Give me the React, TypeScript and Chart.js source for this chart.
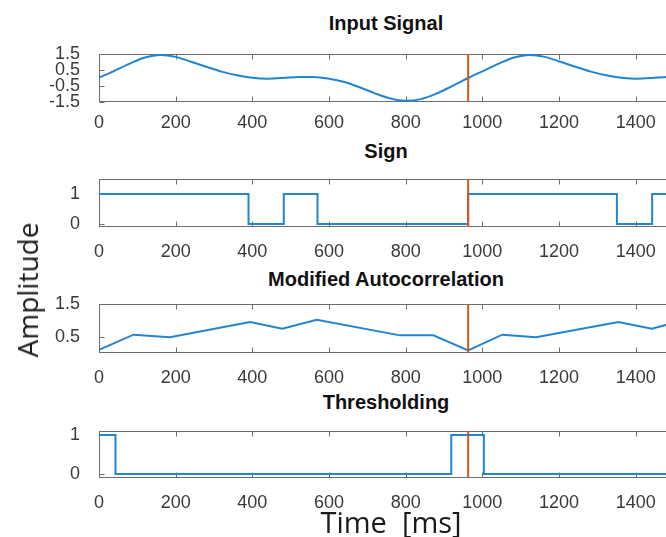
import React, { useEffect, useRef } from "react";
import { Chart, registerables } from "chart.js";

Chart.register(...registerables);

// ---------------- data ----------------
const X_TICKS = [0, 200, 400, 600, 800, 1000, 1200, 1400];
const X_MIN = 0;
const X_MAX = 1500;
const MARKER_T = 963;

const SIGNAL_T = [0, 40, 80, 120, 160, 200, 240, 280, 320, 360, 400, 440, 480, 520, 560, 600, 640, 680, 720, 760, 800, 840, 880, 920, 963, 1003, 1043, 1083, 1123, 1163, 1203, 1243, 1283, 1323, 1363, 1403, 1443, 1483, 1523];
const SIGNAL_V = [0.02, 0.45, 0.9, 1.28, 1.44, 1.32, 1.02, 0.7, 0.4, 0.17, 0.02, -0.04, 0.0, 0.07, 0.07, -0.04, -0.25, -0.58, -0.96, -1.28, -1.42, -1.32, -0.98, -0.52, 0.0, 0.45, 0.9, 1.28, 1.44, 1.32, 1.02, 0.7, 0.4, 0.17, 0.02, -0.04, 0.0, 0.07, 0.07];

const SIGN_T = [0, 390, 482, 570, 963, 1351, 1443, 1500];
const SIGN_V = [1, 0, 1, 0, 1, 0, 1, 1];

const ACF_T = [0, 90, 185, 394, 478, 568, 785, 872, 963, 1052, 1140, 1355, 1442, 1531];
const ACF_V = [0.1, 0.56, 0.48, 0.95, 0.74, 1.02, 0.54, 0.54, 0.08, 0.56, 0.48, 0.95, 0.74, 1.02];

const THR_T = [0, 43, 919, 1004, 1500];
const THR_V = [1, 0, 1, 0, 0];

const Y_TICKS_SIGNAL = [-1.5, -0.5, 0.5, 1.5];
const Y_TICKS_SIGN = [0, 1];
const Y_TICKS_ACF = [0.5, 1.5];
const Y_TICKS_THR = [0, 1];

const TITLES = ["Input Signal", "Sign", "Modified Autocorrelation", "Thresholding"];
const X_LABEL = "Time  [ms]";
const Y_LABEL = "Amplitude";

// ---------------- styles ----------------
const BLUE = "#2185d0";
const RED = "#dd5319";
const FRAME = "#6e6e6e";
const TICK_COLOR = "#3a3a3a";
const TICK_FONT = "'Liberation Sans', Arial, sans-serif";
const CANVAS_W = 674;
const Y_AXIS_W = 99;
const PAD_TOP = 12;
const X_AXIS_H = 36;
const TICK_LEN = 5;

type PanelCfg = {
  t: number[];
  v: number[];
  mode: "smooth" | "step" | "line";
  yMin: number;
  yMax: number;
  yTicks: number[];
  top: number;
  height: number;
  xPad: number;
  title: string;
  titleY: number;
};

const PANELS: PanelCfg[] = [
  { t: SIGNAL_T, v: SIGNAL_V, mode: "smooth", yMin: -1.5, yMax: 1.5, yTicks: Y_TICKS_SIGNAL, top: 54, height: 48, xPad: 2, title: TITLES[0], titleY: 22.5 },
  { t: SIGN_T, v: SIGN_V, mode: "step", yMin: -0.1, yMax: 1.5, yTicks: Y_TICKS_SIGN, top: 179, height: 48, xPad: 6, title: TITLES[1], titleY: 151 },
  { t: ACF_T, v: ACF_V, mode: "line", yMin: 0, yMax: 1.5, yTicks: Y_TICKS_ACF, top: 304, height: 49, xPad: 6, title: TITLES[2], titleY: 279 },
  { t: THR_T, v: THR_V, mode: "step", yMin: -0.1, yMax: 1.1, yTicks: Y_TICKS_THR, top: 431, height: 47, xPad: 6, title: TITLES[3], titleY: 402 },
];

const framePlugin = {
  id: "frameTicks",
  beforeDatasetsDraw(chart: any) {
    const { ctx, chartArea: a, scales } = chart;
    ctx.save();
    ctx.strokeStyle = FRAME;
    ctx.lineWidth = 1;
    const l = Math.round(a.left) + 0.5;
    const t = Math.round(a.top) + 0.5;
    const r = Math.round(a.right) - 0.5;
    const b = Math.round(a.bottom) - 0.5;
    ctx.strokeRect(l, t, r - l, b - t);
    ctx.beginPath();
    for (const tk of scales.x.ticks) {
      const px = Math.round(scales.x.getPixelForValue(tk.value)) + 0.5;
      ctx.moveTo(px, t);
      ctx.lineTo(px, t + TICK_LEN);
      ctx.moveTo(px, b);
      ctx.lineTo(px, b - TICK_LEN);
    }
    for (const tk of scales.y.ticks) {
      const py = Math.round(scales.y.getPixelForValue(tk.value)) + 0.5;
      ctx.moveTo(l, py);
      ctx.lineTo(l + TICK_LEN, py);
    }
    ctx.stroke();
    ctx.restore();
  },
};

function Panel({ cfg }: { cfg: PanelCfg }) {
  const ref = useRef<HTMLCanvasElement>(null);
  const canvasH = PAD_TOP + cfg.height + X_AXIS_H;

  useEffect(() => {
    if (!ref.current) return;
    const pts = cfg.t.map((x, i) => ({ x, y: cfg.v[i] }));
    const chart = new Chart(ref.current, {
      type: "line",
      data: {
        datasets: [
          {
            data: [
              { x: MARKER_T, y: cfg.yMin },
              { x: MARKER_T, y: cfg.yMax },
            ],
            borderColor: RED,
            borderWidth: 2,
            pointRadius: 0,
            tension: 0,
          },
          {
            data: pts,
            borderColor: BLUE,
            borderWidth: 2,
            pointRadius: 0,
            tension: 0,
            stepped: cfg.mode === "step" ? "before" : false,
            cubicInterpolationMode: cfg.mode === "smooth" ? "monotone" : "default",
          } as any,
        ],
      },
      options: {
        responsive: false,
        animation: false,
        events: [],
        layout: { padding: { top: PAD_TOP, right: 0, bottom: 0, left: 0 } },
        plugins: {
          legend: { display: false },
          tooltip: { enabled: false },
          title: { display: false },
        },
        scales: {
          x: {
            type: "linear",
            min: X_MIN,
            max: X_MAX,
            grid: { display: false },
            border: { display: false },
            afterBuildTicks: (s: any) => {
              s.ticks = X_TICKS.map((v) => ({ value: v }));
            },
            afterFit: (s: any) => {
              s.height = X_AXIS_H;
              s.paddingLeft = 0;
              s.paddingRight = 0;
            },
            ticks: {
              padding: cfg.xPad,
              autoSkip: false,
              maxRotation: 0,
              color: TICK_COLOR,
              font: { family: TICK_FONT, size: 18 },
              callback: (v: any) => String(v),
            },
          },
          y: {
            type: "linear",
            min: cfg.yMin,
            max: cfg.yMax,
            grid: { display: false },
            border: { display: false },
            afterBuildTicks: (s: any) => {
              s.ticks = cfg.yTicks.map((v) => ({ value: v }));
            },
            afterFit: (s: any) => {
              s.width = Y_AXIS_W;
              s.paddingTop = 0;
              s.paddingBottom = 0;
            },
            ticks: {
              padding: 11,
              autoSkip: false,
              color: TICK_COLOR,
              font: { family: TICK_FONT, size: 18 },
              callback: (v: any) => String(v),
            },
          },
        },
      } as any,
      plugins: [framePlugin],
    });
    return () => chart.destroy();
  }, [cfg]);

  return (
    <>
      <canvas
        ref={ref}
        width={CANVAS_W}
        height={canvasH}
        style={{ position: "absolute", left: 0, top: cfg.top - PAD_TOP, width: CANVAS_W, height: canvasH }}
      />
      <div
        style={{
          position: "absolute",
          left: 386,
          top: cfg.titleY - 9.7,
          transform: "translateX(-50%)",
          font: "bold 20px 'Liberation Sans', Arial, sans-serif",
          lineHeight: "20px",
          color: "#111",
          whiteSpace: "nowrap",
        }}
      >
        {cfg.title}
      </div>
    </>
  );
}

export default function App() {
  return (
    <div
      style={{
        position: "fixed",
        left: 0,
        top: 0,
        width: 666,
        height: 537,
        overflow: "hidden",
        background: "#fff",
      }}
    >
      {PANELS.map((p, i) => (
        <Panel key={i} cfg={p} />
      ))}
      <div
        style={{
          position: "absolute",
          left: 391,
          top: 506.5,
          transform: "translateX(-50%)",
          font: "29px 'Open Sans', sans-serif",
          lineHeight: "29px",
          color: "#1a1a1a",
          whiteSpace: "pre",
        }}
      >
        {X_LABEL}
      </div>
      <div
        style={{
          position: "absolute",
          left: 27.4,
          top: 290,
          transform: "translate(-50%, -50%) rotate(-90deg)",
          font: "28px 'Open Sans', sans-serif",
          lineHeight: "28px",
          color: "#1a1a1a",
          whiteSpace: "nowrap",
        }}
      >
        {Y_LABEL}
      </div>
    </div>
  );
}
